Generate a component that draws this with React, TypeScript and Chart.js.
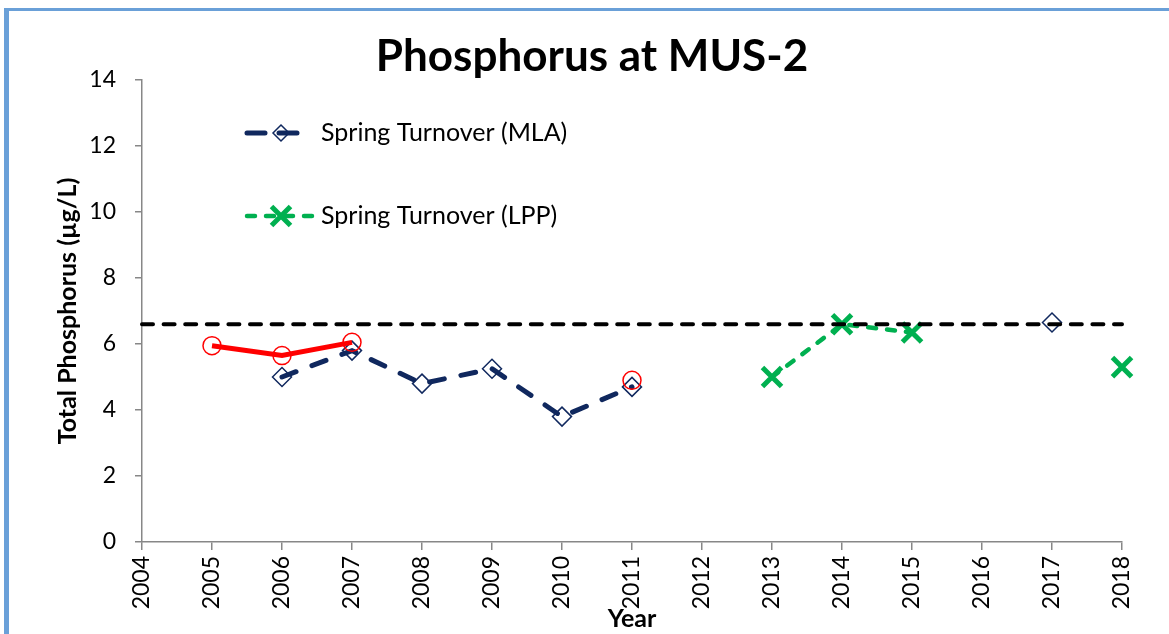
import { useEffect, useRef } from "react";
import { Chart, registerables } from "chart.js";

Chart.register(...registerables);

// ---- Data ----
const years = [2005, 2006, 2007, 2008, 2009, 2010, 2011, 2012, 2013, 2014, 2015, 2016, 2017, 2018];
const mlaValues = [null, 5.0, 5.8, 4.8, 5.25, 3.8, 4.7, null, null, null, null, null, 6.65, null];
const lppValues = [null, null, null, null, null, null, null, null, 5.0, 6.6, 6.35, null, null, 5.3];
const otherValues = [5.95, 5.65, 6.05, null, null, null, 4.9, null, null, null, null, null, null, null];
const guidelineValue = 6.6;
const guidelineYears = [2004, 2018];
const xTickValues = [2004, 2005, 2006, 2007, 2008, 2009, 2010, 2011, 2012, 2013, 2014, 2015, 2016, 2017, 2018];
const yTickValues = [0, 2, 4, 6, 8, 10, 12, 14];

const titleText = "Phosphorus at MUS-2";
const yTitle = "Total Phosphorus (µg/L)";
const xTitle = "Year";
const mlaLabel = "Spring Turnover (MLA)";
const lppLabel = "Spring Turnover (LPP)";

const FONT = "Lato, 'Open Sans', sans-serif";
const NAVY = "#10285e";
const GREEN = "#00b050";
const RED = "#ff0000";
const AXIS = "#878787";

const toPoints = (vals: (number | null)[]) => years.map((x, i) => ({ x, y: vals[i] }));

const decorPlugin = {
  id: "decor",
  beforeDraw(chart: any) {
    const ctx = chart.ctx;
    ctx.save();
    ctx.fillStyle = "#6aa0d8";
    ctx.fillRect(4, 8, 5, chart.height - 8);
    ctx.fillRect(4, 8, chart.width - 4, 3);
    ctx.restore();
  },
  afterDraw(chart: any) {
    const ctx = chart.ctx;
    ctx.save();
    // Title
    ctx.fillStyle = "#000";
    ctx.font = `bold 44px ${FONT}`;
    ctx.textAlign = "center";
    ctx.textBaseline = "alphabetic";
    ctx.fillText(titleText, 592, 71);

    // Legend
    const items = [
      { label: mlaLabel, color: NAVY, width: 5, dash: [18, 14], y: 133, end: 300, marker: "diamond" },
      { label: lppLabel, color: GREEN, width: 4.5, dash: [8, 11], y: 216, end: 316, marker: "cross" },
    ];
    for (const it of items) {
      ctx.save();
      ctx.strokeStyle = it.color;
      ctx.lineWidth = it.width;
      ctx.lineCap = "round";
      ctx.setLineDash(it.dash);
      ctx.beginPath();
      ctx.moveTo(247, it.y);
      ctx.lineTo(it.end, it.y);
      ctx.stroke();
      ctx.setLineDash([]);
      const cx = 281;
      if (it.marker === "diamond") {
        const r = 8;
        ctx.strokeStyle = NAVY;
        ctx.lineWidth = 1.5;
        ctx.beginPath();
        ctx.moveTo(cx, it.y - r);
        ctx.lineTo(cx + r, it.y);
        ctx.lineTo(cx, it.y + r);
        ctx.lineTo(cx - r, it.y);
        ctx.closePath();
        ctx.stroke();
      } else {
        const d = 9.5;
        ctx.lineWidth = 5;
        ctx.lineCap = "butt";
        ctx.beginPath();
        ctx.moveTo(cx - d, it.y - d);
        ctx.lineTo(cx + d, it.y + d);
        ctx.moveTo(cx + d, it.y - d);
        ctx.lineTo(cx - d, it.y + d);
        ctx.stroke();
      }
      ctx.restore();
      ctx.fillStyle = "#000";
      ctx.font = `25px ${FONT}`;
      ctx.textAlign = "left";
      ctx.textBaseline = "middle";
      ctx.fillText(it.label, 321, it.y);
    }
    ctx.restore();
  },
};

export default function App() {
  const canvasRef = useRef<HTMLCanvasElement | null>(null);

  useEffect(() => {
    const canvas = canvasRef.current;
    if (!canvas) return;
    const chart = new Chart(canvas, {
      type: "line",
      data: {
        datasets: [
          {
            label: "Guideline",
            data: guidelineYears.map((x) => ({ x, y: guidelineValue })),
            borderColor: "#000",
            borderWidth: 4,
            borderDash: [11, 10.6],
            borderCapStyle: "round",
            pointRadius: 0,
            clip: false,
            order: 0,
          },
          {
            label: "Spring Turnover",
            data: toPoints(otherValues),
            borderColor: RED,
            borderWidth: 5,
            pointStyle: "circle",
            pointRadius: 9,
            pointBorderWidth: 1.5,
            pointBorderColor: RED,
            pointBackgroundColor: "rgba(0,0,0,0)",
            spanGaps: false,
            clip: false,
            order: 1,
          },
          {
            label: lppLabel,
            data: toPoints(lppValues),
            borderColor: GREEN,
            borderWidth: 4.5,
            borderDash: [8, 11],
            borderCapStyle: "round",
            pointStyle: "crossRot",
            pointRadius: 13.5,
            pointBorderWidth: 5,
            pointBorderColor: GREEN,
            pointBackgroundColor: GREEN,
            spanGaps: false,
            clip: false,
            order: 2,
          },
          {
            label: mlaLabel,
            data: toPoints(mlaValues),
            borderColor: NAVY,
            borderWidth: 5,
            borderDash: [15, 17],
            borderCapStyle: "round",
            pointStyle: "rectRot",
            pointRadius: 9.5,
            pointBorderWidth: 1.5,
            pointBorderColor: NAVY,
            pointBackgroundColor: "rgba(0,0,0,0)",
            spanGaps: false,
            clip: false,
            order: 3,
          },
        ],
      },
      options: {
        responsive: false,
        animation: false,
        layout: { padding: { left: 0, right: 47, top: 80, bottom: 0 } },
        plugins: {
          legend: { display: false },
          title: { display: false },
          tooltip: { enabled: false },
        },
        scales: {
          x: {
            type: "linear",
            min: 2004,
            max: 2018,
            afterBuildTicks: (scale: any) => {
              scale.ticks = xTickValues.map((value) => ({ value }));
            },
            afterFit: (scale: any) => {
              scale.height = 92;
            },
            ticks: {
              autoSkip: false,
              minRotation: 90,
              maxRotation: 90,
              padding: 6,
              color: "#000",
              font: { family: FONT, size: 23 },
              callback: (v: any) => String(v),
            },
            grid: {
              display: true,
              drawOnChartArea: false,
              drawTicks: true,
              tickLength: 8,
              color: AXIS,
              lineWidth: 1.5,
            },
            border: { display: true, color: AXIS, width: 1.5 },
            title: {
              display: true,
              text: xTitle,
              color: "#000",
              font: { family: FONT, size: 25, weight: "bold" },
              padding: { top: 0, bottom: 0 },
            },
          },
          y: {
            type: "linear",
            min: 0,
            max: 14,
            afterBuildTicks: (scale: any) => {
              scale.ticks = yTickValues.map((value) => ({ value }));
            },
            afterFit: (scale: any) => {
              scale.width = 142;
            },
            ticks: {
              padding: 19,
              color: "#000",
              font: { family: FONT, size: 23 },
              callback: (v: any) => String(v),
            },
            grid: {
              display: true,
              drawOnChartArea: false,
              drawTicks: true,
              tickLength: 7,
              color: AXIS,
              lineWidth: 1.5,
            },
            border: { display: true, color: AXIS, width: 1.5 },
            title: {
              display: true,
              text: yTitle,
              color: "#000",
              font: { family: FONT, size: 25, weight: "bold" },
              padding: { top: 53, bottom: 0 },
            },
          },
        },
      },
      plugins: [decorPlugin],
    } as any);
    return () => chart.destroy();
  }, []);

  return (
    <div style={{ position: "fixed", left: 0, top: 0, width: 1169, height: 634, background: "#fff" }}>
      <canvas ref={canvasRef} width={1169} height={634} style={{ display: "block" }} />
    </div>
  );
}
